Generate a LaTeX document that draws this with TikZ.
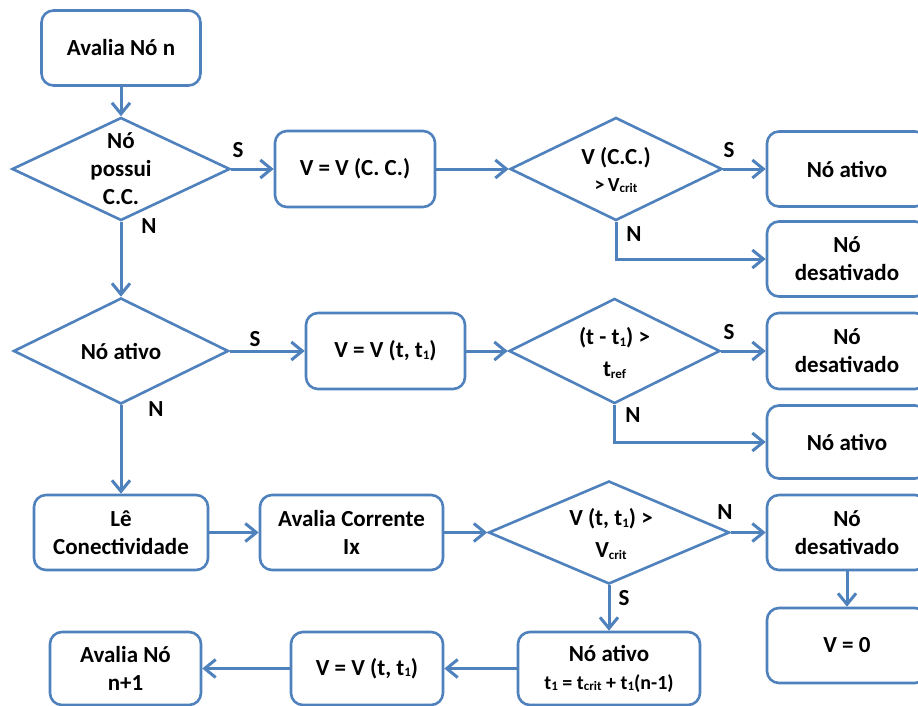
\documentclass[tikz,border=0pt]{standalone}
\usepackage{fontspec}
\setmainfont{Carlito}
\usetikzlibrary{shapes.geometric,arrows.meta}
\definecolor{flowblue}{RGB}{79,129,189}
% small index written low on the line (t1, Vcrit, tref)
\newcommand\idx[1]{\raisebox{-1.5pt}{\fontsize{13}{13}\selectfont #1}}

\begin{document}
\begin{tikzpicture}[x=1pt,y=-1pt,
  every node/.style={font=\fontsize{23}{28}\selectfont\bfseries, align=center, inner sep=0pt},
  box/.style={draw=flowblue, line width=2.6pt, rounded corners=12pt, fill=white},
  dia/.style={draw=flowblue, line width=2.6pt, diamond, fill=white},
  flow/.style={draw=flowblue, line width=3pt,
    -{Straight Barb[length=11pt,width=18pt,line width=3pt]}},
  widetext/.style={font=\fontsize{23}{32}\selectfont\bfseries},
]
\fill[white] (0,0) rectangle (918,706);
\clip (0,0) rectangle (918,706);

% ---- first block: start and DC test
\node[box, minimum width=159pt, minimum height=75pt] (start) at (121,48) {Avalia Nó n};
\node[dia, minimum width=218pt, minimum height=103pt] (d1) at (121,169) {};
\node (d1t) at (121,169) {Nó\\possui\\C.C.};
\node[box, minimum width=160pt, minimum height=76pt] (cc) at (355,169) {V = V (C. C.)};
\node[dia, minimum width=212pt, minimum height=103pt] (d2) at (616,169) {};
\node[font=\fontsize{23}{27}\selectfont\bfseries] (d2t) at (616,170) {V (C.C.)\\{\fontsize{20}{20}\selectfont >\,V\idx{crit}}};
\node[box, minimum width=160pt, minimum height=75pt] (on1) at (847,169) {Nó ativo};
\node[box, minimum width=160pt, minimum height=75pt] (off1) at (847,259) {Nó\\desativado};

% ---- second block: active node test
\node[dia, minimum width=215pt, minimum height=106pt] (d3) at (121,351) {};
\node (d3t) at (121,351) {Nó ativo};
\node[box, minimum width=159pt, minimum height=76pt] (vt1) at (385.5,351) {V = V (t, t\idx{1})};
\node[dia, minimum width=211pt, minimum height=105pt] (d4) at (614.5,351) {};
\node[widetext] (d4t) at (614.5,353) {(t - t\idx{1}) >\\t\idx{ref}};
\node[box, minimum width=160pt, minimum height=76pt] (off2) at (847,351) {Nó\\desativado};
\node[box, minimum width=160pt, minimum height=73pt] (on2) at (847,442) {Nó ativo};

% ---- third block: connectivity and current
\node[box, minimum width=174pt, minimum height=75pt] (le) at (121,532.5) {Lê\\Conectividade};
\node[box, minimum width=183pt, minimum height=75pt] (corr) at (351.5,532.5) {Avalia Corrente\\Ix};
\node[dia, minimum width=241pt, minimum height=103pt] (d5) at (609,532.5) {};
\node[widetext] (d5t) at (611,534) {V (t, t\idx{1}) >\\V\idx{crit}};
\node[box, minimum width=160pt, minimum height=75pt] (off3) at (847,532.5) {Nó\\desativado};
\node[box, minimum width=160pt, minimum height=75pt] (v0) at (847,645.5) {V = 0};
\node[box, minimum width=182pt, minimum height=73pt] (on3) at (609,668.5) {Nó ativo\\{\fontsize{20}{24}\selectfont t\idx{1} = t\idx{crit} + t\idx{1}(n-1)}};
\node[box, minimum width=152pt, minimum height=73pt] (vt2) at (367,668.5) {V = V (t, t\idx{1})};
\node[box, minimum width=151pt, minimum height=73pt] (next) at (125.5,668.5) {Avalia Nó\\n+1};

% ---- connectors
\draw[flow] (start) -- (d1);
\draw[flow] (d1.east) -- (cc.west);
\draw[flow] (d1.south) -- (d3.north);
\draw[flow] (cc.east) -- (d2.west);
\draw[flow] (d2.east) -- (on1.west);
\draw[flow] (d2.south) |- (off1.west);
\draw[flow] (d3.east) -- (vt1.west);
\draw[flow] (d3.south) -- (le.north);
\draw[flow] (vt1.east) -- (d4.west);
\draw[flow] (d4.east) -- (off2.west);
\draw[flow] (d4.south) |- (on2.west);
\draw[flow] (le.east) -- (corr.west);
\draw[flow] (corr.east) -- (d5.west);
\draw[flow] (d5.east) -- (off3.west);
\draw[flow] (off3.south) -- (v0.north);
\draw[flow] (d5.south) -- (on3.north);
\draw[flow] (on3.west) -- (vt2.east);
\draw[flow] (vt2.west) -- (next.east);

% ---- branch labels
\node (s1) at (238,150) {S};
\node (n1) at (149,226) {N};
\node (s2) at (729,150) {S};
\node (n2) at (634,234) {N};
\node (s3) at (255,339) {S};
\node (n3) at (156,409) {N};
\node (s4) at (729,332) {S};
\node (n4) at (633,415) {N};
\node (n5) at (725,512) {N};
\node (s5) at (624,598) {S};
\end{tikzpicture}
\end{document}
